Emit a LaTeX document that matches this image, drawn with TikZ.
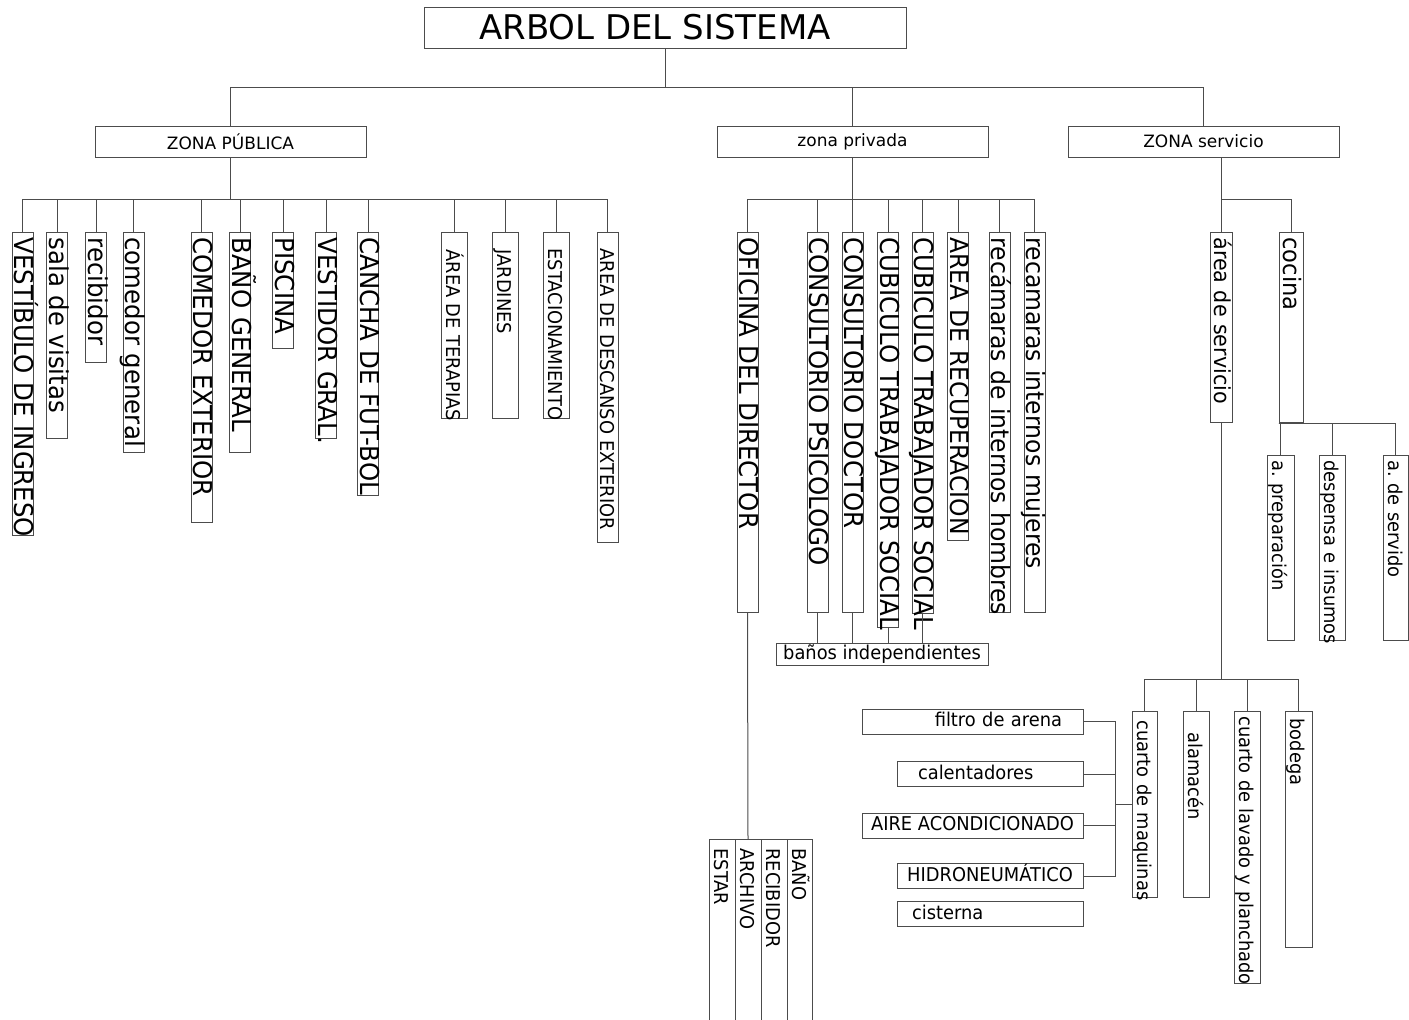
\documentclass[tikz,border=0pt]{standalone}
\usepackage{fontspec}
\setmainfont{DejaVu Sans}
\newfontfamily\boxfont[FakeStretch=0.94]{DejaVu Sans}
\frenchspacing

\tikzset{
  vbox/.style={draw, rotate=-90, anchor=west, inner xsep=5pt, inner ysep=0pt, align=left},
  vbig/.style={vbox, font=\boxfont\fontsize{26}{26}\selectfont, text height=18.5pt, text depth=2.5pt},
  vsmall/.style={vbox, font=\boxfont\fontsize{19}{19}\selectfont, text height=21pt, text depth=5pt},
  zona/.style={draw, minimum width=271pt, minimum height=31pt, font=\fontsize{17}{17}\selectfont},
  hbox/.style={draw, inner ysep=0pt, minimum height=25pt, text height=14pt, text depth=4pt, font=\boxfont\fontsize{19}{19}\selectfont},
}

\begin{document}
\begin{tikzpicture}[x=1pt, y=-1pt, color=black!70, text=black, line width=1pt, inner sep=2pt]
\useasboundingbox (0,0) rectangle (1409,1020);

% raiz y zonas
\node[draw, minimum width=482pt, minimum height=41pt, font=\fontsize{34}{34}\selectfont] (root) at (665,27.5) {ARBOL DEL SISTEMA\hspace*{20pt}};
\node[zona] (pub) at (230.5,141.5) {ZONA PÚBLICA};
\node[zona] (priv) at (852.5,141.5) {zona privada};
\node[zona] (serv) at (1203.5,141.5) {ZONA servicio};

% zona publica
\node[vbig, text width=293pt] (vest) at (22.5,232) {\mbox{VESTÍBULO DE INGRESO}};
\node[vbig, text width=196pt] (sala) at (57,232) {\mbox{sala de visitas}};
\node[vbig, text width=120pt] (recib) at (96,232) {\mbox{recibidor}};
\node[vbig, text width=210pt] (comgen) at (133.5,232) {\mbox{comedor general}};
\node[vbig, text width=280pt] (comext) at (201.5,232) {\mbox{COMEDOR EXTERIOR}};
\node[vbig, text width=210pt] (bano) at (240,232) {\mbox{BAÑO GENERAL}};
\node[vbig, text width=106pt] (pisc) at (283,232) {\mbox{PISCINA}};
\node[vbig, text width=196pt] (vestidor) at (326,232) {\mbox{VESTIDOR GRAL.}};
\node[vbig, text width=253pt] (cancha) at (368,232) {\mbox{CANCHA DE FUT-BOL}};
\node[vsmall, text width=176pt] (terap) at (454,232) {\mbox{\hspace*{12pt}ÁREA DE TERAPIAS}};
\node[vsmall, text width=176pt] (jard) at (505,232) {\mbox{\hspace*{12pt}JARDINES}};
\node[vsmall, text width=176pt] (estac) at (556.5,232) {\mbox{\hspace*{11pt}ESTACIONAMIENTO}};
\node[vsmall, text width=300pt, text height=18pt, text depth=3pt] (desc) at (607.5,232) {\mbox{\hspace*{11pt}AREA DE DESCANSO EXTERIOR}};

% zona privada
\node[vbig, text width=370pt] (ofi) at (747.5,232) {\mbox{OFICINA DEL DIRECTOR}};
\node[vbig, text width=370pt] (psic) at (817.5,232) {\mbox{CONSULTORIO PSICOLOGO}};
\node[vbig, text width=370pt] (doc) at (852.5,232) {\mbox{CONSULTORIO DOCTOR}};
\node[vbig, text width=385pt] (cub1) at (888,232) {\mbox{CUBICULO TRABAJADOR SOCIAL}};
\node[vbig, text width=371pt] (cub2) at (922.5,232) {\mbox{CUBICULO TRABAJADOR SOCIAL}};
\node[vbig, text width=298pt, font=\boxfont\fontsize{25}{25}\selectfont] (recup) at (958,232) {\mbox{AREA DE RECUPERACION}};
\node[vbig, text width=370pt, font=\boxfont\fontsize{25}{25}\selectfont] (homb) at (999.5,232) {\mbox{recámaras de internos hombres}};
\node[vbig, text width=370pt, font=\boxfont\fontsize{25}{25}\selectfont] (muj) at (1034.5,232) {\mbox{recamaras internos mujeres}};
\node[hbox, minimum width=212pt, minimum height=22pt] (banos) at (882,654) {baños independientes};

% oficina del director
\node[vsmall, text width=173pt] (estar) at (722,839) {\mbox{\hspace*{4pt}ESTAR}};
\node[vsmall, text width=173pt] (arch) at (748,839) {\mbox{\hspace*{4pt}ARCHIVO}};
\node[vsmall, text width=173pt] (recibo) at (774,839) {\mbox{\hspace*{4pt}RECIBIDOR}};
\node[vsmall, text width=173pt, text height=20pt] (banof) at (799.5,839) {\mbox{\hspace*{4pt}BAÑO}};

% zona servicio
\node[vbig, text width=180pt, font=\boxfont\fontsize{22}{22}\selectfont, text height=18pt, text depth=4pt] (asv) at (1221,232) {\mbox{área de servicio}};
\node[vbig, text width=180pt, font=\boxfont\fontsize{24}{24}\selectfont, text height=20pt, text depth=4pt] (coc) at (1291,232) {\mbox{cocina}};
\node[vsmall, text width=175pt, text height=22pt] (prep) at (1280.5,455) {\mbox{a. preparación}};
\node[vsmall, text width=175pt] (desp) at (1332,455) {\mbox{despensa e insumos}};
\node[vsmall, text width=175pt, text height=20pt] (servido) at (1395.5,455) {\mbox{a. de servido}};
\node[vsmall, text width=176pt, text height=20pt] (cuarto) at (1144.5,711) {\mbox{\hspace*{4pt}cuarto de maquinas}};
\node[vsmall, text width=176pt] (alam) at (1196,711) {\mbox{\hspace*{16pt}alamacén}};
\node[vsmall, text width=262pt] (lavado) at (1247,711) {\mbox{cuarto de lavado y planchado}};
\node[vsmall, text width=226pt, text height=22pt] (bodega) at (1298.5,711) {\mbox{\hspace*{2pt}bodega}};

% cuarto de maquinas
\node[hbox, text width=179pt, inner xsep=21pt, align=right] (filtro) at (972.5,721.5) {filtro de arena};
\node[hbox, text width=144pt, inner xsep=21pt, align=left] (calent) at (990,774) {calentadores};
\node[hbox, minimum width=221pt] (aire) at (972.5,825.5) {AIRE ACONDICIONADO};
\node[hbox, minimum width=186pt] (hidro) at (990,876) {HIDRONEUMÁTICO};
\node[hbox, text width=156pt, inner xsep=15pt, align=left] (cist) at (990,914) {cisterna};

% conectores
\draw (root.south) -- ++(0,39) -| (pub.north);
\draw (root.south) -- ++(0,39) -| (priv.north);
\draw (root.south) -- ++(0,39) -| (serv.north);
\foreach \c in {vest,sala,recib,comgen,comext,bano,pisc,vestidor,cancha,terap,jard,estac,desc}
  \draw (pub.south) -- ++(0,42) -| (\c.west);
\foreach \c in {ofi,psic,doc,cub1,cub2,recup,homb,muj}
  \draw (priv.south) -- ++(0,42) -| (\c.west);
\foreach \c in {psic,doc,cub1,cub2}
  \draw (\c.east) -- (\c.east |- banos.north);
\draw (ofi.east) -- (arch.west);
\draw (serv.south -| asv.west) -- (asv.west);
\draw (serv.south -| asv.west) -- ++(0,42) -| (coc.west);
\foreach \c in {prep,desp,servido}
  \draw (coc.south east) -| (\c.west);
\foreach \c in {cuarto,alam,lavado,bodega}
  \draw (asv.east) -- ++(0,256) -| (\c.west);
\foreach \c in {filtro,calent,aire,hidro}
  \draw (cuarto.south) -- ++(-16,0) |- (\c.east);
\end{tikzpicture}
\end{document}
